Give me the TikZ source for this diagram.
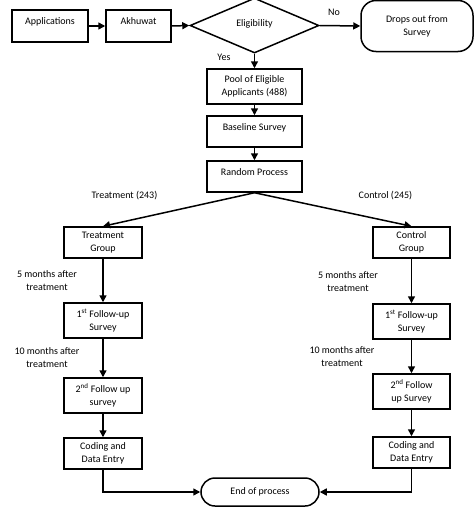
\documentclass[tikz,border=0pt]{standalone}
\usepackage{fontspec}
\setmainfont{Carlito}
\usetikzlibrary{shapes.geometric,arrows.meta}
\begin{document}
\begin{tikzpicture}[x=1pt,y=-1pt,
  line width=1.5pt,
  every node/.style={font=\fontsize{10}{13}\selectfont, align=center},
  box/.style={draw, rectangle, inner sep=0pt, line width=1.5pt},
  single/.style={text height=7pt, text depth=10pt},
  arr/.style={-{Triangle[length=7pt,width=7pt]}, line width=1.5pt},
  lbl/.style={inner sep=0pt}]
\useasboundingbox (0,0) rectangle (474,509);
% top row
\node[box, minimum width=76pt, minimum height=32pt, single] (app) at (50,26) {Applications};
\node[box, minimum width=65pt, minimum height=32pt, single] (akh) at (138.5,26) {Akhuwat};
\node[draw, diamond, minimum width=129pt, minimum height=55pt, inner sep=0pt, line width=1.5pt, text height=7pt, text depth=6pt] (elig) at (254.5,25.5) {Eligibility};
\node[box, rounded corners=15pt, minimum width=112pt, minimum height=51pt] (drop) at (417,26) {Drops out from\\Survey};
% centre column
\node[box, minimum width=95pt, minimum height=35pt] (pool) at (254.5,86.5) {Pool of Eligible\\Applicants (488)};
\node[box, minimum width=95pt, minimum height=31pt, single] (base) at (254.5,131.5) {Baseline Survey};
\node[box, minimum width=95pt, minimum height=31pt, single] (rand) at (254.5,176.5) {Random Process};
% left column
\node[box, minimum width=78pt, minimum height=31pt] (tg) at (103,242.5) {Treatment\\Group};
\node[box, minimum width=78pt, minimum height=35pt] (f1L) at (103,320.5) {1\textsuperscript{st} Follow-up\\Survey};
\node[box, minimum width=78pt, minimum height=35pt] (f2L) at (103,395.5) {2\textsuperscript{nd} Follow up\\survey};
\node[box, minimum width=78pt, minimum height=31pt] (cdL) at (103,453.5) {Coding and\\Data Entry};
% right column
\node[box, minimum width=77pt, minimum height=31pt] (cg) at (411.5,242.5) {Control\\Group};
\node[box, minimum width=77pt, minimum height=35pt] (f1R) at (411.5,321.5) {1\textsuperscript{st} Follow-up\\Survey};
\node[box, minimum width=77pt, minimum height=35pt] (f2R) at (411.5,391.5) {2\textsuperscript{nd} Follow\\up Survey};
\node[box, minimum width=77pt, minimum height=31pt] (cdR) at (411.5,452.5) {Coding and\\Data Entry};
% end
\node[box, rounded corners=14pt, minimum width=118pt, minimum height=28pt] (end) at (260,492) {End of process};
% labels
\node[lbl] (no) at (334,12) {No};
\node[lbl] (yes) at (224,57) {Yes};
\node[lbl] (tlab) at (124.5,196) {Treatment (243)};
\node[lbl] (clab) at (385.5,196) {Control (245)};
\node[lbl] (m5L) at (47,281) {5 months after\\treatment};
\node[lbl] (m10L) at (47,358) {10 months after\\treatment};
\node[lbl] (m5R) at (348,281.5) {5 months after\\treatment};
\node[lbl] (m10R) at (342,356.5) {10 months after\\treatment};
% connectors
\draw[arr] (app.east) -- (akh.west);
\draw[arr] (akh.east) -- (elig.west);
\draw[arr] (elig.east) -- (drop.west);
\draw[arr] (elig.south) -- (pool.north);
\draw[arr] (pool.south) -- (base.north);
\draw[arr] (base.south) -- (rand.north);
\draw[arr] (rand.south) -- (tg.north);
\draw[arr] (rand.south) -- (cg.north);
\draw[arr] (tg.south) -- (f1L.north);
\draw[arr] (f1L.south) -- (f2L.north);
\draw[arr] (f2L.south) -- (cdL.north);
\draw[arr] (cg.south) -- (f1R.north);
\draw[arr] (f1R.south) -- (f2R.north);
\draw[arr] (f2R.south) -- (cdR.north);
\draw[arr] (cdL.south) |- (end.west);
\draw[arr] (cdR.south) |- (end.east);
\end{tikzpicture}
\end{document}
